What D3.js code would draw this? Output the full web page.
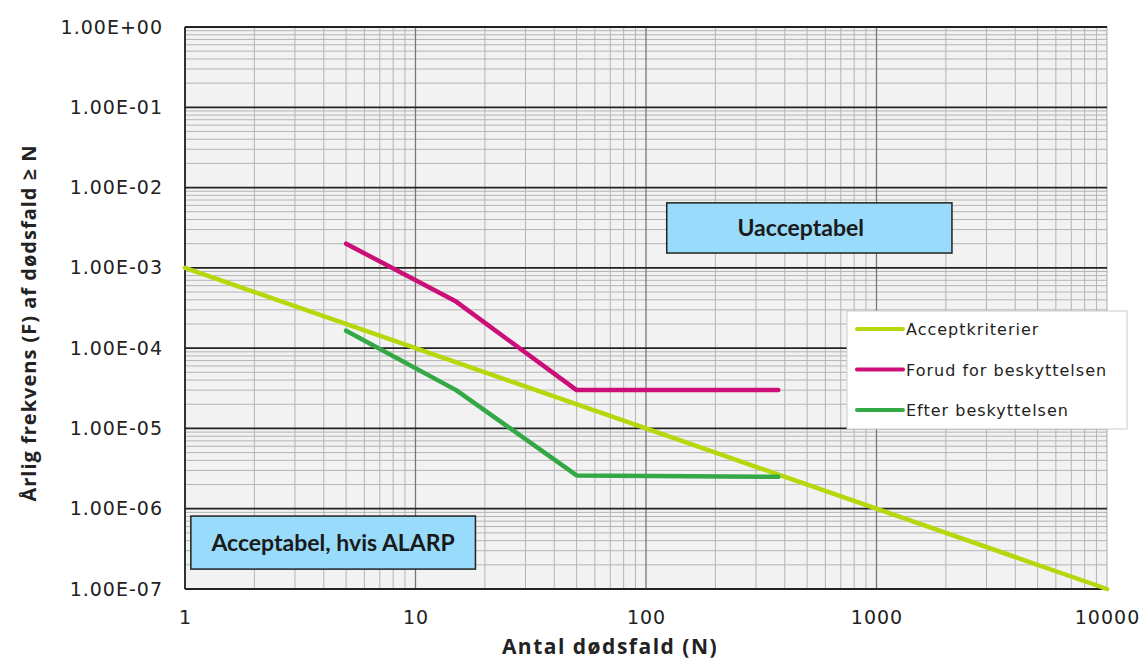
<!DOCTYPE html>
<html>
<head>
<meta charset="utf-8">
<script src="https://cdn.jsdelivr.net/npm/d3@7"></script>
<style>
  body { margin: 0; background: #fff; }
</style>
</head>
<body>
<div id="chart-area"></div>
<script>
// data
var acceptN = [1, 10, 100, 1000, 10000];
var acceptF = [1e-3, 1e-4, 1e-5, 1e-6, 1e-7];

var forudN = [5, 15, 50, 375];
var forudF = [2.0e-3, 3.8e-4, 3.0e-5, 3.0e-5];

var efterN = [5, 15, 50, 375];
var efterF = [1.65e-4, 3.0e-5, 2.6e-6, 2.5e-6];

var seriesNames = ["Acceptkriterier", "Forud for beskyttelsen", "Efter beskyttelsen"];
var seriesColors = ["#b5d80c", "#cc0f78", "#35a846"];

var yTicks = [1e0, 1e-1, 1e-2, 1e-3, 1e-4, 1e-5, 1e-6, 1e-7];
var yTickLabels = ["1.00E+00", "1.00E-01", "1.00E-02", "1.00E-03", "1.00E-04", "1.00E-05", "1.00E-06", "1.00E-07"];
var xTicks = [1, 10, 100, 1000, 10000];

var margin = { left: 185, right: 38, top: 27, bottom: 73 };
var W = 1145, H = 662;
var width = W - margin.left - margin.right,
    height = H - margin.top - margin.bottom;

var svg = d3.select("#chart-area")
    .append("svg")
        .attr("width", W)
        .attr("height", H);

var g = svg.append("g")
    .attr("transform", "translate(" + margin.left + "," + margin.top + ")");

var x = d3.scaleLog().domain([1, 10000]).range([0, width]);
var y = d3.scaleLog().domain([1e-7, 1]).range([height, 0]);

// plot background
g.append("rect")
    .attr("width", width)
    .attr("height", height)
    .attr("fill", "#f2f2f2")
    .attr("stroke", "#aaa");

// minor grid values
var minorX = [], minorY = [];
for (var e = 0; e < 4; e++) {
    for (var k = 2; k <= 9; k++) minorX.push(k * Math.pow(10, e));
}
for (var e2 = -7; e2 < 0; e2++) {
    for (var k2 = 2; k2 <= 9; k2++) minorY.push(k2 * Math.pow(10, e2));
}

g.selectAll(".minor-x").data(minorX).enter().append("line")
    .attr("x1", function(d){ return x(d); })
    .attr("x2", function(d){ return x(d); })
    .attr("y1", 0).attr("y2", height)
    .attr("stroke", "#b4b4b4").attr("stroke-width", 1);

g.selectAll(".minor-y").data(minorY).enter().append("line")
    .attr("y1", function(d){ return y(d); })
    .attr("y2", function(d){ return y(d); })
    .attr("x1", 0).attr("x2", width)
    .attr("stroke", "#b4b4b4").attr("stroke-width", 1);

g.selectAll(".major-x").data(xTicks.slice(1, -1)).enter().append("line")
    .attr("x1", function(d){ return x(d); })
    .attr("x2", function(d){ return x(d); })
    .attr("y1", 0).attr("y2", height)
    .attr("stroke", "#777").attr("stroke-width", 1.3);

g.selectAll(".major-y").data(yTicks).enter().append("line")
    .attr("y1", function(d){ return y(d); })
    .attr("y2", function(d){ return y(d); })
    .attr("x1", 0).attr("x2", width)
    .attr("stroke", "#222").attr("stroke-width", 1.8);

// left axis line
g.append("line")
    .attr("x1", 0).attr("x2", 0)
    .attr("y1", 0).attr("y2", height)
    .attr("stroke", "#222").attr("stroke-width", 1.8);

// Y axis labels
var yAxis = d3.axisLeft(y)
    .tickValues(yTicks)
    .tickSize(0)
    .tickPadding(22)
    .tickFormat(function(d, i){ return yTickLabels[i]; });
var yAxisGroup = g.append("g").call(yAxis);
yAxisGroup.select(".domain").remove();
yAxisGroup.selectAll("text")
    .attr("font-family", "DejaVu Sans, Verdana, sans-serif")
    .attr("font-size", "19px")
    .attr("letter-spacing", "1px")
    .attr("fill", "#222");

// X axis labels
var xAxis = d3.axisBottom(x)
    .tickValues(xTicks)
    .tickSize(0)
    .tickPadding(22)
    .tickFormat(d3.format("d"));
var xAxisGroup = g.append("g")
    .attr("transform", "translate(0," + height + ")")
    .call(xAxis);
xAxisGroup.select(".domain").remove();
xAxisGroup.selectAll("text")
    .attr("font-family", "DejaVu Sans, Verdana, sans-serif")
    .attr("font-size", "19px")
    .attr("letter-spacing", "1px")
    .attr("fill", "#222");

// lines
var line = d3.line()
    .x(function(d){ return x(d[0]); })
    .y(function(d){ return y(d[1]); });

var seriesData = [
    d3.zip(acceptN, acceptF),
    d3.zip(forudN, forudF),
    d3.zip(efterN, efterF)
];

// region boxes
function regionBox(x0, x1, fTop, fBot, label, tx) {
    var bx = x(x0), by = y(fTop);
    var bw = x(x1) - x(x0), bh = y(fBot) - y(fTop);
    g.append("rect")
        .attr("x", bx).attr("y", by)
        .attr("width", bw).attr("height", bh)
        .attr("fill", "#99dbfb")
        .attr("stroke", "#222")
        .attr("stroke-width", 1.5);
    g.append("text")
        .attr("x", bx + bw * tx)
        .attr("y", by + bh / 2 + 8)
        .attr("text-anchor", "middle")
        .attr("font-family", "Lato, 'Open Sans', sans-serif")
        .attr("font-weight", "bold")
        .attr("font-size", "23px")
        .attr("fill", "#1a1a1a")
        .text(label);
}
regionBox(123, 2125, 6.45e-3, 1.53e-3, "Uacceptabel", 0.47);
regionBox(1.06, 18.2, 8.1e-7, 1.77e-7, "Acceptabel, hvis ALARP", 0.5);

g.selectAll(".series").data(seriesData).enter().append("path")
    .attr("d", line)
    .attr("fill", "none")
    .attr("stroke", function(d, i){ return seriesColors[i]; })
    .attr("stroke-width", 4.5)
    .attr("stroke-linejoin", "round")
    .attr("stroke-linecap", "round");

// legend
var legend = svg.append("g").attr("transform", "translate(847,311)");
legend.append("rect")
    .attr("width", 280).attr("height", 118)
    .attr("fill", "#fff")
    .attr("stroke", "#ccc");
seriesNames.forEach(function(name, i) {
    var ly = 18 + i * 40.5;
    legend.append("line")
        .attr("x1", 10).attr("x2", 56)
        .attr("y1", ly).attr("y2", ly)
        .attr("stroke", seriesColors[i])
        .attr("stroke-width", 4)
        .attr("stroke-linecap", "round");
    legend.append("text")
        .attr("x", 59)
        .attr("y", ly + 6)
        .attr("font-family", "DejaVu Sans, Verdana, sans-serif")
        .attr("font-size", "16px")
        .attr("letter-spacing", "1px")
        .attr("fill", "#222")
        .text(name);
});

// axis titles
svg.append("text")
    .attr("x", 610)
    .attr("y", 654)
    .attr("text-anchor", "middle")
    .attr("font-family", "'Open Sans', sans-serif")
    .attr("font-weight", "bold")
    .attr("font-size", "21px")
    .attr("letter-spacing", "1.5px")
    .attr("fill", "#222")
    .text("Antal dødsfald (N)");

svg.append("text")
    .attr("transform", "translate(36,323) rotate(-90)")
    .attr("text-anchor", "middle")
    .attr("font-family", "'Open Sans', sans-serif")
    .attr("font-weight", "bold")
    .attr("font-size", "20px")
    .attr("letter-spacing", "1px")
    .attr("fill", "#222")
    .text("Årlig frekvens (F) af dødsfald ≥ N");
</script>
</body>
</html>
